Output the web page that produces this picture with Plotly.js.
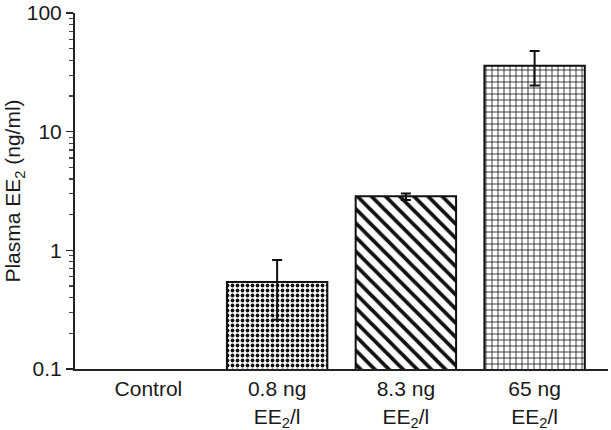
<!DOCTYPE html>
<html>
<head>
<meta charset="utf-8">
<script src="https://cdn.plot.ly/plotly-3.0.1.min.js"></script>
<style>html,body{margin:0;padding:0;background:#fff;}#chart{width:611px;height:430px;}</style>
</head>
<body>
<div id="chart"></div>
<script>
// Data
const categories = ["Control", "0.8 ng<br>EE<sub>2</sub>/l", "8.3 ng<br>EE<sub>2</sub>/l", "65 ng<br>EE<sub>2</sub>/l"];
const plasmaEE2 = [null, 0.54, 2.86, 36];
const errPlus = [null, 0.29, 0.15, 12];
const errMinus = [null, 0.28, 0.2, 11.5];
const patternShapes = ["", ".", "\\", "+"];
const patternSizes = [8, 5, 10, 6];
const patternSolidity = [0.3, 0.45, 0.38, 0.25];
const yTickVals = [0.1, 1, 10, 100];
const yTickText = ["0.1", "1", "10", "100"];
const yMinorTickVals = [0.2, 0.3, 0.4, 0.5, 0.6, 0.7, 0.8, 0.9,
                        2, 3, 4, 5, 6, 7, 8, 9,
                        20, 30, 40, 50, 60, 70, 80, 90];

const trace = {
  type: "bar",
  x: categories,
  y: plasmaEE2,
  marker: {
    color: "white",
    line: {color: "#111", width: 2},
    pattern: {
      shape: patternShapes,
      fgcolor: "#111",
      bgcolor: "white",
      fgopacity: 1,
      size: patternSizes,
      solidity: patternSolidity,
      fillmode: "replace"
    }
  },
  error_y: {
    type: "data",
    symmetric: false,
    array: errPlus,
    arrayminus: errMinus,
    color: "#111",
    thickness: 2,
    width: 5
  },
  hoverinfo: "skip"
};

const layout = {
  width: 611,
  height: 430,
  margin: {l: 75, r: 3, t: 13, b: 61},
  paper_bgcolor: "white",
  plot_bgcolor: "white",
  showlegend: false,
  bargap: 0.22,
  font: {family: "Liberation Sans, Arial, sans-serif", size: 21, color: "#1a1a1a"},
  xaxis: {
    type: "category",
    range: [-0.57, 3.57],
    showline: true,
    linecolor: "#222",
    linewidth: 2,
    ticks: "",
    showgrid: false,
    zeroline: false,
    tickfont: {size: 21},
    automargin: false
  },
  yaxis: {
    type: "log",
    range: [-1, 2.0005],
    tickmode: "array",
    tickvals: yTickVals,
    ticktext: yTickText,
    ticklabeloverflow: "allow",
    showline: true,
    linecolor: "#222",
    linewidth: 2,
    ticks: "outside",
    ticklen: 7,
    tickwidth: 1.5,
    tickcolor: "#222",
    showgrid: false,
    zeroline: false,
    tickfont: {size: 21},
    minor: {tickmode: "array", tickvals: yMinorTickVals, ticks: "outside", ticklen: 4, tickwidth: 1.2, tickcolor: "#444", showgrid: false},
    title: {text: "Plasma EE<sub>2</sub> (ng/ml)", font: {size: 21}, standoff: 0},
    automargin: false
  }
};

Plotly.newPlot("chart", [trace], layout, {staticPlot: true, displayModeBar: false});
</script>
</body>
</html>
